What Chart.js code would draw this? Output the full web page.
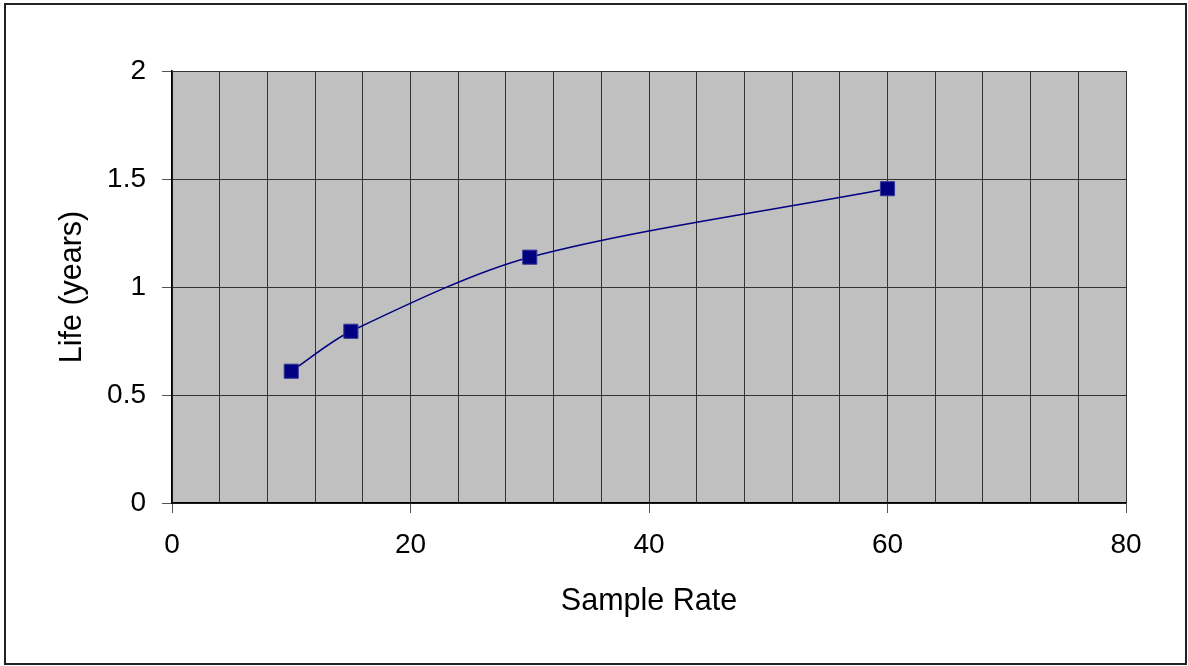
<!DOCTYPE html>
<html>
<head>
<meta charset="utf-8">
<script src="https://cdn.jsdelivr.net/npm/chart.js@4/dist/chart.umd.min.js"></script>
<style>
  body { margin: 0; background: #fff; }
  canvas { display: block; }
</style>
</head>
<body>
<canvas id="chart" width="1188" height="666"></canvas>
<script>
// values
const sampleRates = [10, 15, 30, 60];
const lifeYears = [0.61, 0.795, 1.138, 1.455];
const xTickLabels = [0, 20, 40, 60, 80];
const yTickLabels = [0, 0.5, 1, 1.5, 2];

const FONT = 'Liberation Sans, Arial, sans-serif';

// gray plot area + outer frame
const frame = {
  id: 'frame',
  beforeDraw(chart) {
    const { ctx, chartArea } = chart;
    ctx.save();
    ctx.fillStyle = '#c0c0c0';
    ctx.fillRect(chartArea.left, chartArea.top, chartArea.right - chartArea.left, chartArea.bottom - chartArea.top);
    ctx.strokeStyle = '#222';
    ctx.lineWidth = 2;
    ctx.strokeRect(5, 4, 1181, 660);
    ctx.restore();
  },
};

const points = sampleRates.map((x, i) => ({ x, y: lifeYears[i] }));

new Chart(document.getElementById('chart'), {
  type: 'line',
  data: {
    datasets: [{
      label: 'Life',
      data: points,
      borderColor: '#000080',
      borderWidth: 1.5,
      backgroundColor: '#000080',
      pointStyle: 'rect',
      pointRadius: 10,
      pointBorderColor: '#3a3a9a',
      pointBorderWidth: 1,
      pointBackgroundColor: '#000080',
      tension: 0.3,
      fill: false,
    }],
  },
  options: {
    responsive: false,
    devicePixelRatio: 1,
    animation: false,
    layout: { padding: { left: 0, top: 71, right: 62, bottom: 0 } },
    plugins: { legend: { display: false }, tooltip: { enabled: false } },
    scales: {
      x: {
        type: 'linear',
        min: 0,
        max: 80,
        afterFit(scale) { scale.height = 163; },
        afterBuildTicks(scale) {
          // gridline every 4, labels only on the xTickLabels
          const ticks = [];
          for (let v = 0; v <= 80; v += 4) ticks.push({ value: v });
          scale.ticks = ticks;
        },
        ticks: {
          autoSkip: false,
          maxRotation: 0,
          padding: 15,
          color: '#000',
          font: { family: FONT, size: 28 },
          callback: (v) => (xTickLabels.includes(v) ? String(v) : ''),
        },
        grid: {
          color: '#333',
          lineWidth: 1,
          tickLength: 10,
          tickColor: (ctx) => (ctx.tick && xTickLabels.includes(ctx.tick.value) ? '#555' : 'rgba(0,0,0,0)'),
        },
        border: { color: '#000', width: 1.5 },
        title: {
          display: true,
          text: 'Sample Rate',
          color: '#000',
          font: { family: FONT, size: 30.5 },
          padding: { top: 0, bottom: 46 },
        },
      },
      y: {
        type: 'linear',
        min: 0,
        max: 2,
        afterFit(scale) { scale.width = 172; },
        afterBuildTicks(scale) {
          scale.ticks = yTickLabels.map((v) => ({ value: v }));
        },
        ticks: {
          padding: 16,
          color: '#000',
          font: { family: FONT, size: 28 },
          callback: (v) => String(v),
        },
        grid: {
          color: '#333',
          lineWidth: 1,
          tickLength: 10,
          tickColor: '#555',
        },
        border: { color: '#000', width: 1.5 },
        title: {
          display: true,
          text: 'Life (years)',
          color: '#000',
          font: { family: FONT, size: 30.5 },
          padding: { top: 54, bottom: 0 },
        },
      },
    },
  },
  plugins: [frame],
});
</script>
</body>
</html>
